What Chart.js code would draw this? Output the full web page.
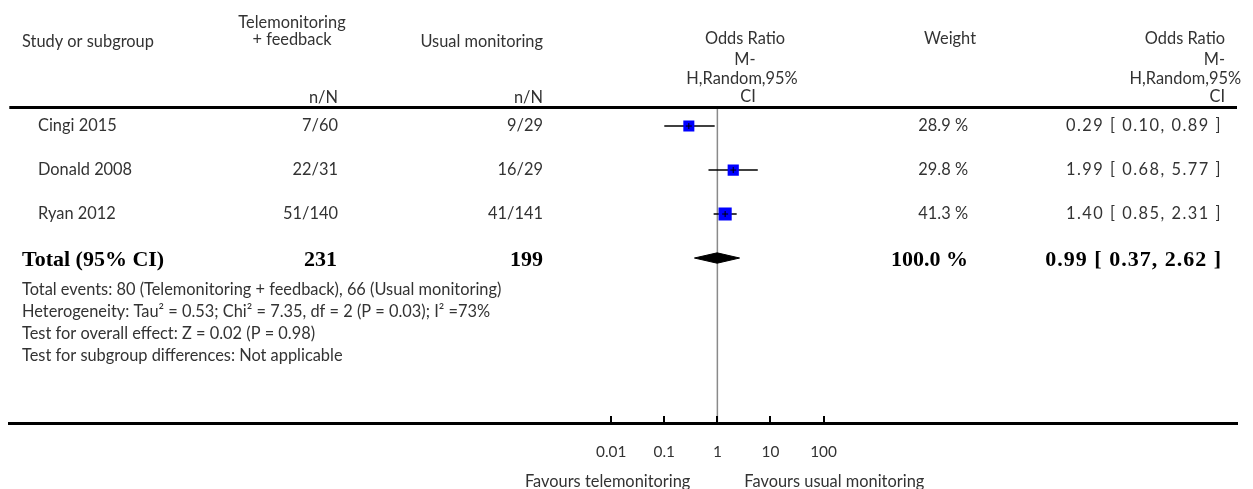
<!DOCTYPE html>
<html><head><meta charset="utf-8">
<script src="https://cdn.jsdelivr.net/npm/chart.js@4/dist/chart.umd.min.js"></script>
<style>html,body{margin:0;padding:0;background:#fff;overflow:hidden}#wrap{width:1253px;height:489px;position:relative}</style>
</head><body><div id="wrap"><canvas id="c" width="1253" height="489"></canvas></div>
<script>
// ---------------- data ----------------
const studies = ['Cingi 2015', 'Donald 2008', 'Ryan 2012'];
const teleEvents = [7, 22, 51];
const teleTotal = [60, 31, 140];
const usualEvents = [9, 16, 41];
const usualTotal = [29, 29, 141];
const weights = [28.9, 29.8, 41.3];
const orEst = [0.29, 1.99, 1.40];
const orLow = [0.10, 0.68, 0.85];
const orHigh = [0.89, 5.77, 2.31];
const totalLabel = 'Total (95% CI)';
const totalTele = 231;
const totalUsual = 199;
const totalWeight = 100.0;
const totalOR = 0.99;
const totalLow = 0.37;
const totalHigh = 2.62;
const tickValues = [0.01, 0.1, 1, 10, 100];
const tickLabels = ['0.01', '0.1', '1', '10', '100'];
const footerLines = [
  'Total events: 80 (Telemonitoring + feedback), 66 (Usual monitoring)',
  'Heterogeneity: Tau\u00B2 = 0.53; Chi\u00B2 = 7.35, df = 2 (P = 0.03); I\u00B2 =73%',
  'Test for overall effect: Z = 0.02 (P = 0.98)',
  'Test for subgroup differences: Not applicable'
];
const favoursLeft = 'Favours telemonitoring';
const favoursRight = 'Favours usual monitoring';

// ---------------- layout / style ----------------
const SANS = 'Lato, "Noto Sans", sans-serif';
const SERIF = '"Liberation Serif", "DejaVu Serif", serif';
const mctx = document.createElement('canvas').getContext('2d');
mctx.font = '13px ' + SANS;
let FS = 13 * 321 / mctx.measureText(footerLines[3]).width;
FS = Math.max(11, Math.min(17, FS));
mctx.font = 'bold 17px ' + SERIF;
let BFS = 17 * 145 / mctx.measureText(totalLabel).width;
BFS = Math.max(13, Math.min(22, BFS));
const TXT = '#333333';

const footerRows = [3.73, 4.23, 4.73, 5.23];
const totalRow = 3;
const diamondHalf = 0.118;

function fmt2(v){ return v.toFixed(2); }

const textPlugin = {
  id: 'forestText',
  beforeDatasetsDraw(chart) {
    const {ctx, chartArea, scales} = chart;
    const x1 = scales.x.getPixelForValue(1);
    ctx.save();
    ctx.strokeStyle = '#8a8a8a';
    ctx.lineWidth = 1.5;
    ctx.beginPath();
    ctx.moveTo(x1, chartArea.top);
    ctx.lineTo(x1, chartArea.bottom);
    ctx.stroke();
    ctx.restore();
  },
  afterDraw(chart) {
    const {ctx, chartArea, scales} = chart;
    const ys = scales.y, xs = scales.x;
    ctx.save();
    // header rule
    ctx.fillStyle = '#000';
    ctx.fillRect(chartArea.left, chartArea.top - 2, chartArea.right - chartArea.left, 3);
    // tick marks on axis
    ctx.strokeStyle = '#000';
    ctx.lineWidth = 2;
    tickValues.forEach(v => {
      const px = Math.round(xs.getPixelForValue(v));
      ctx.beginPath();
      ctx.moveTo(px, chartArea.bottom);
      ctx.lineTo(px, chartArea.bottom - 7);
      ctx.stroke();
    });

    const t = (s, x, y, align, font, color, ls) => {
      ctx.font = font; ctx.fillStyle = color || TXT;
      ctx.textAlign = align; ctx.textBaseline = 'middle';
      ctx.letterSpacing = ls || '0px';
      ctx.fillText(s, x, y);
      ctx.letterSpacing = '0px';
    };
    const f = FS + 'px ' + SANS;
    const bf = 'bold ' + BFS + 'px ' + SERIF;

    // headers
    t('Study or subgroup', 22, 42, 'left', f);
    t('Telemonitoring', 292, 23, 'center', f);
    t('+ feedback', 292, 40, 'center', f);
    t('n/N', 338, 98, 'right', f);
    t('Usual monitoring', 543, 42, 'right', f);
    t('n/N', 543, 98, 'right', f);
    t('Odds Ratio', 745, 39, 'center', f);
    t('M-', 745, 60, 'center', f);
    t('H,Random,95%', 742, 79, 'center', f);
    t('CI', 748, 97, 'center', f);
    t('Weight', 950, 39, 'center', f);
    t('Odds Ratio', 1225, 39, 'right', f);
    t('M-', 1225, 60, 'right', f);
    t('H,Random,95%', 1241, 79, 'right', f);
    t('CI', 1225, 97, 'right', f);

    // study rows
    studies.forEach((s, i) => {
      const y = ys.getPixelForValue(i);
      t(s, 38, y, 'left', f);
      t(teleEvents[i] + '/' + teleTotal[i], 338, y, 'right', f);
      t(usualEvents[i] + '/' + usualTotal[i], 543, y, 'right', f);
      t(weights[i].toFixed(1) + ' %', 968, y, 'right', f);
      t(fmt2(orEst[i]) + ' [ ' + fmt2(orLow[i]) + ', ' + fmt2(orHigh[i]) + ' ]', 1222, y, 'right', f, null, '1.5px');
    });
    // total row
    const yt = ys.getPixelForValue(totalRow) + 2;
    t(totalLabel, 22, yt, 'left', bf, '#000');
    t(String(totalTele), 337, yt, 'right', bf, '#000');
    t(String(totalUsual), 543, yt, 'right', bf, '#000');
    t(totalWeight.toFixed(1) + ' %', 968, yt, 'right', bf, '#000');
    t(fmt2(totalOR) + ' [ ' + fmt2(totalLow) + ', ' + fmt2(totalHigh) + ' ]', 1222, yt, 'right', bf, '#000', '1px');

    // footers
    footerLines.forEach((s, i) => t(s, 22, ys.getPixelForValue(footerRows[i]), 'left', f));

    // favours
    const yfav = chartArea.bottom + 59;
    t(favoursLeft, xs.getPixelForValue(1) - 27, yfav, 'right', f);
    t(favoursRight, xs.getPixelForValue(1) + 27, yfav, 'left', f);
    ctx.restore();
  }
};

const ciSets = studies.map((s, i) => ({
  label: s + ' CI',
  data: [{x: orLow[i], y: i}, {x: orHigh[i], y: i}],
  showLine: true, borderColor: '#000', borderWidth: 1.5,
  pointRadius: 0, order: 3
}));

const squareSet = {
  label: 'Study OR',
  data: studies.map((s, i) => ({x: orEst[i], y: i})),
  pointStyle: 'rect',
  pointRadius: weights.map(w => 2.05 * Math.sqrt(w) / 1.4142),
  backgroundColor: '#0000ff', borderColor: '#0000ff', borderWidth: 0,
  order: 2
};

const crossSet = {
  label: 'Estimate',
  data: studies.map((s, i) => ({x: orEst[i], y: i})),
  pointStyle: 'cross', pointRadius: 3,
  borderColor: '#000', borderWidth: 1,
  order: 1
};

const diamondSet = {
  label: 'Total',
  data: [
    {x: totalLow, y: totalRow},
    {x: totalOR, y: totalRow - diamondHalf},
    {x: totalHigh, y: totalRow},
    {x: totalOR, y: totalRow + diamondHalf},
    {x: totalLow, y: totalRow}
  ],
  showLine: true, fill: 'shape', tension: 0,
  backgroundColor: '#000', borderColor: '#000', borderWidth: 1,
  pointRadius: 0, order: 2
};

new Chart(document.getElementById('c'), {
  type: 'scatter',
  data: { datasets: [...ciSets, squareSet, crossSet, diamondSet] },
  options: {
    responsive: false,
    animation: false,
    events: [],
    layout: { padding: { left: 5, right: 16, top: 108, bottom: 0 } },
    plugins: { legend: { display: false }, tooltip: { enabled: false } },
    scales: {
      x: {
        type: 'logarithmic',
        min: Math.pow(10, -13.34),
        max: Math.pow(10, 9.79),
        position: 'bottom',
        afterBuildTicks: s => { s.ticks = tickValues.map(v => ({value: v})); },
        afterFit: s => { s.height = 66; },
        grid: { display: false, drawTicks: false },
        border: { display: true, color: '#000', width: 3 },
        ticks: {
          autoSkip: false, maxRotation: 0, padding: 20,
          color: TXT, font: { family: SANS, size: FS - 1 },
          callback: (v, i) => tickLabels[i]
        }
      },
      y: {
        type: 'linear', display: false, reverse: true,
        min: -0.41, max: 6.75
      }
    }
  },
  plugins: [textPlugin]
});
</script>
</body></html>
